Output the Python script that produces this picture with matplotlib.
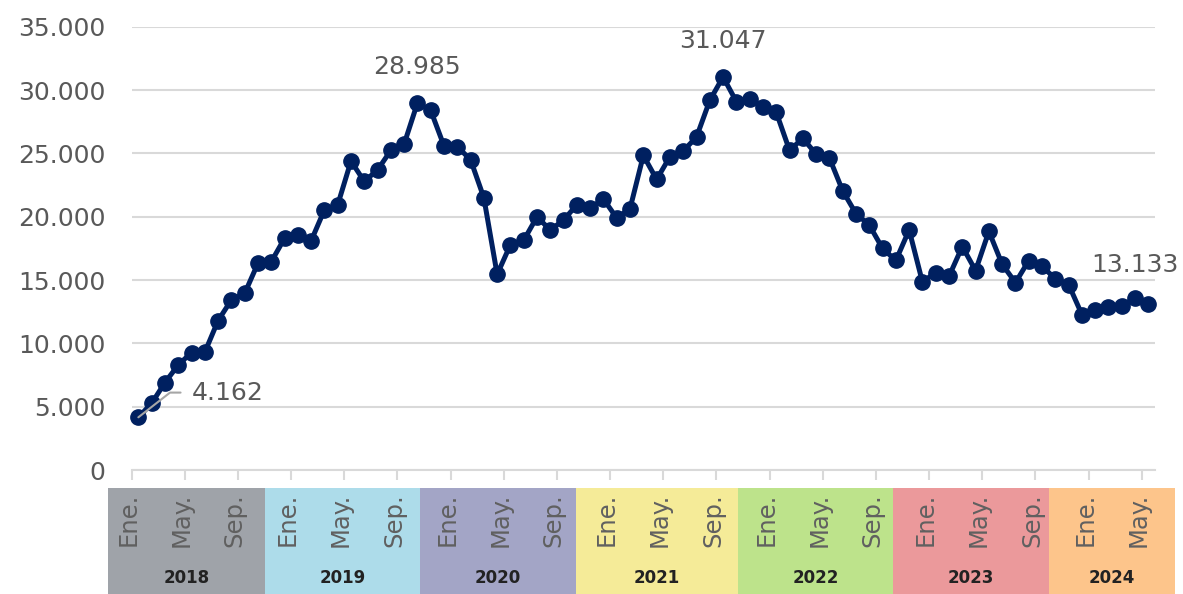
import numpy as np
import matplotlib
matplotlib.use('Agg')
import matplotlib.pyplot as plt

# Datos mensuales (ene. 2018 - may. 2024)
valores = [4162, 5270, 6900, 8300, 9270, 9300, 11800, 13430, 13950, 16330, 16450, 18300,
           18570, 18100, 20540, 20940, 24400, 22800, 23700, 25250, 25750, 28985, 28400, 25600,
           25550, 24500, 21500, 15450, 17800, 18150, 20000, 18950, 19750, 20950, 20700, 21400,
           19900, 20650, 24850, 22950, 24750, 25200, 26300, 29200, 31047, 29100, 29300, 28700,
           28250, 25250, 26200, 24950, 24650, 22050, 20250, 19350, 17500, 16550, 18960, 14850,
           15600, 15300, 17650, 15750, 18850, 16250, 14800, 16540, 16080, 15120, 14650, 12280,
           12650, 12850, 12930, 13600, 13133]
anios = [2018, 2019, 2020, 2021, 2022, 2023, 2024]
meses = ['Ene.', 'May.', 'Sep.']
colores_anio = ['#9FA3A9', '#ADDCEA', '#A3A5C6', '#F5EB98', '#BDE38B', '#EB999B', '#FDC58B']
etiquetas = {0: '4.162', 21: '28.985', 44: '31.047', 76: '13.133'}

W, H = 1183, 594
fig = plt.figure(figsize=(W / 100, H / 100), dpi=100)
plt.rcParams['font.family'] = 'DejaVu Sans'

# Ejes principales (en pixeles de la figura)
ax_left, ax_right, ax_top, ax_bottom = 131.7, 1155, 26.9, 470
ax = fig.add_axes([ax_left / W, (H - ax_bottom) / H, (ax_right - ax_left) / W, (ax_bottom - ax_top) / H])

n = len(valores)
x = np.arange(n)
ax.plot(x, valores, color='#002060', lw=3.6, marker='o', ms=11, zorder=2, clip_on=False)

ax.set_xlim(-0.5, n - 0.5)
ax.set_ylim(0, 35000)
ax.set_yticks(range(0, 35001, 5000))
ax.set_yticklabels([f'{v:,}'.replace(',', '.') for v in range(0, 35001, 5000)])
ax.tick_params(axis='y', length=0, pad=19, labelsize=18, labelcolor='#595959')
ax.set_xticks(np.arange(-0.5, n - 0.5, 4))
ax.set_xticklabels([])
ax.tick_params(axis='x', length=7.2, width=1.5, color='#D9D9D9')
ax.yaxis.grid(True, color='#D9D9D9', lw=1.5)
ax.set_axisbelow(True)
for s in ['top', 'left', 'right']:
    ax.spines[s].set_visible(False)
ax.spines['bottom'].set_color('#D9D9D9')
ax.spines['bottom'].set_linewidth(1.5)

# Etiquetas de datos
for i, txt in etiquetas.items():
    if i == 0:
        ax.annotate(txt, xy=(i, valores[i]), xytext=(38.4, 17.8), textcoords='offset points',
                    ha='left', va='center', fontsize=18, color='#595959',
                    arrowprops=dict(arrowstyle='-', color='#A6A6A6', lw=1.5, relpos=(0, 0.5),
                                    shrinkA=6, shrinkB=0,
                                    connectionstyle='angle,angleA=0,angleB=38,rad=0'))
    elif i == n - 1:
        ax.annotate(txt, xy=(i, valores[i]), xytext=(21.5, 28), textcoords='offset points',
                    ha='right', va='center', fontsize=18, color='#595959')
    else:
        ax.annotate(txt, xy=(i, valores[i]), xytext=(0, 26), textcoords='offset points',
                    ha='center', va='center', fontsize=18, color='#595959')

# Tabla de años debajo del gráfico
tab_left, tab_right, tab_top = 108, 1175, 488
cat = (ax_right - ax_left) / n
tab = fig.add_axes([tab_left / W, 0, (tab_right - tab_left) / W, (H - tab_top) / H])
tab.set_xlim(-0.5 - (ax_left - tab_left) / cat, n - 0.5 + (tab_right - ax_right) / cat)
tab.set_ylim(0, 1)
tab.axis('off')

bordes_px = [108, 265, 420, 576, 738, 893, 1049, 1175]
bordes = [-0.5 + (b - ax_left) / cat for b in bordes_px]
for k, anio in enumerate(anios):
    tab.axvspan(bordes[k], bordes[k + 1], color=colores_anio[k], lw=0)
    tab.text((bordes[k] + bordes[k + 1]) / 2, 0.15, str(anio), ha='center', va='center',
             fontsize=12, fontweight='bold', color='#222222')
    for j, m in enumerate(meses):
        idx = 12 * k + 4 * j
        if idx < n:
            tab.text(idx - 0.75, 0.70, m, rotation=90, ha='center', va='center',
                     fontsize=17.5, color='#606060')

plt.savefig('out.png', dpi=100)
